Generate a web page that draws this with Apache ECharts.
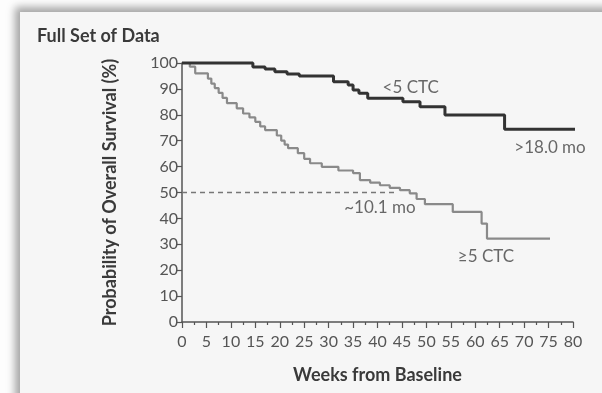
<!DOCTYPE html>
<html>
<head>
<meta charset="utf-8">
<script src="https://cdn.jsdelivr.net/npm/echarts@6/dist/echarts.min.js"></script>
<style>
	html, body { margin: 0; padding: 0; background: #ffffff; }
	#wrap { position: relative; width: 602px; height: 393px; overflow: hidden; background: #fdfdfd; }
	#panel { position: absolute; left: 20px; top: 12px; width: 600px; height: 400px; background: #f6f6f6;
		box-shadow: -5px -5px 8px rgba(0, 0, 0, 0.35); }
	#chart { position: absolute; left: 0; top: 0; width: 602px; height: 393px; }
</style>
</head>
<body>
<div id="wrap">
	<div id="panel"></div>
	<div id="chart"></div>
</div>
<script>
// weeks from baseline / probability of overall survival (%)
const lowWeeks = [0, 14.5, 17, 19, 21.5, 24, 31, 34, 35, 36.2, 38, 45.2, 48.7, 53.8, 66, 84];
const lowSurvival = [100, 98.5, 97.7, 96.6, 95.8, 95, 92.8, 91.5, 89.6, 88.3, 86.4, 85, 83.1, 79.9, 74.4, 74.4];

const highWeeks = [0, 1.6, 2.7, 5.3, 6, 6.7, 7.5, 8.3, 9.2, 11.2, 12.5, 13.8, 15, 16, 17, 19.4, 20.3, 21,
	21.7, 23.7, 25, 26.2, 28.6, 32, 35, 36.4, 38.5, 40.5, 42.5, 44.6, 46.6, 48, 49.7, 55.4, 61.3, 62.4, 75.3];
const highSurvival = [100, 98.6, 96, 94, 92, 90.3, 88.5, 86.5, 84.5, 82.5, 80.5, 79, 77.3, 75.5, 74.1, 72, 70, 68.5,
	67.1, 65.2, 63, 61.3, 59.9, 58.5, 57.5, 54.8, 53.8, 52.8, 51.8, 50.9, 49.7, 47.5, 45.5, 42.5, 38, 32.2, 32.2];

const medianWeeks = [0, 43.9];
const medianSurvival = [50, 50];

// annotation texts and where they sit (weeks, %)
const noteTexts = ['<5 CTC', '>18.0 mo', '~10.1 mo', '\u22655 CTC'];
const noteWeeks = [46.8, 75.3, 40.5, 62.2];
const noteSurvival = [90.7, 67.5, 44.3, 25.4];

const zip = (xs, ys) => xs.map((x, i) => [x, ys[i]]);

const font = 'Lato, "Open Sans", sans-serif';

const chart = echarts.init(document.getElementById('chart'));

chart.setOption({
	animation: false,
	title: {
		text: 'Full Set of Data',
		left: 32,
		top: 22,
		textStyle: { fontFamily: font, fontSize: 18, fontWeight: 'bold', color: '#3a3a3a' }
	},
	grid: { left: 182, right: 29, top: 63, bottom: 71, containLabel: false },
	xAxis: {
		type: 'value',
		min: 0,
		max: 80,
		interval: 5,
		name: 'Weeks from Baseline',
		nameLocation: 'middle',
		nameGap: 44,
		nameTextStyle: { fontFamily: font, fontSize: 18, fontWeight: 'bold', color: '#3a3a3a' },
		axisLine: { lineStyle: { color: '#555', width: 1.5 } },
		axisTick: { length: 6, lineStyle: { color: '#555', width: 1.2 } },
		minorTick: { show: true, splitNumber: 2, length: 3, lineStyle: { color: '#555', width: 1.2 } },
		axisLabel: { fontFamily: font, fontSize: 16, color: '#555', margin: 12 },
		splitLine: { show: false }
	},
	yAxis: {
		type: 'value',
		min: 0,
		max: 100,
		interval: 10,
		name: 'Probability of Overall Survival (%)',
		nameLocation: 'middle',
		nameGap: 63,
		nameTextStyle: { fontFamily: font, fontSize: 18, fontWeight: 'bold', color: '#3a3a3a' },
		axisLine: { show: true, lineStyle: { color: '#555', width: 1.5 } },
		axisTick: { show: true, length: 5, lineStyle: { color: '#555', width: 1.2 } },
		axisLabel: { fontFamily: font, fontSize: 16, color: '#555', margin: 4 },
		splitLine: { show: false }
	},
	series: [
		{
			name: 'median',
			type: 'line',
			data: zip(medianWeeks, medianSurvival),
			symbol: 'none',
			lineStyle: { color: '#777', width: 1.3, type: [5, 4] },
			z: 1
		},
		{
			name: '>=5 CTC',
			type: 'line',
			step: 'end',
			data: zip(highWeeks, highSurvival),
			symbol: 'none',
			lineStyle: { color: '#8a8a8a', width: 2.2 },
			z: 2
		},
		{
			name: '<5 CTC',
			type: 'line',
			step: 'end',
			clip: false,
			data: zip(lowWeeks, lowSurvival),
			symbol: 'none',
			lineStyle: { color: '#333', width: 3 },
			z: 3
		},
		{
			name: 'notes',
			type: 'scatter',
			clip: false,
			symbolSize: 0,
			data: noteTexts.map((t, i) => ({ value: [noteWeeks[i], noteSurvival[i]], name: t })),
			label: {
				show: true,
				position: 'inside',
				formatter: p => p.name,
				fontFamily: font,
				fontSize: 17,
				color: '#444'
			},
			z: 4
		}
	]
});
</script>
</body>
</html>
